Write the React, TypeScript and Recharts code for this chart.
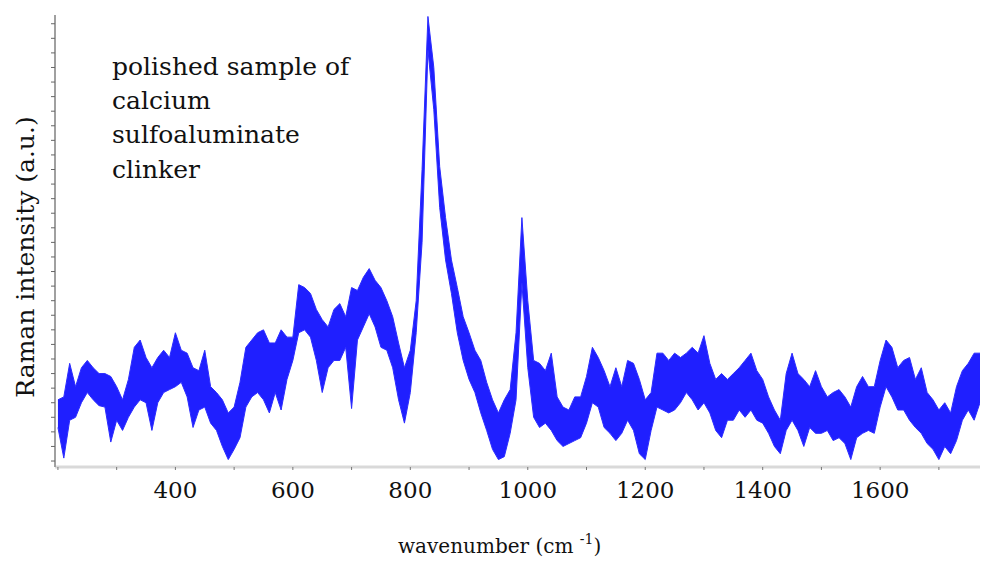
import { AreaChart, Area, XAxis, YAxis } from "recharts";

const wavenumber = [
  200, 210, 220, 230, 240, 250, 260, 270, 280, 290,
  300, 310, 320, 330, 340, 350, 360, 370, 380, 390,
  400, 410, 420, 430, 440, 450, 460, 470, 480, 490,
  500, 510, 520, 530, 540, 550, 560, 570, 580, 590,
  600, 610, 620, 630, 640, 650, 660, 670, 680, 690,
  700, 710, 720, 730, 740, 750, 760, 770, 780, 790,
  800, 810, 820, 830, 840, 850, 860, 870, 880, 890,
  900, 910, 920, 930, 940, 950, 960, 970, 980, 990,
  1000, 1010, 1020, 1030, 1040, 1050, 1060, 1070, 1080, 1090,
  1100, 1110, 1120, 1130, 1140, 1150, 1160, 1170, 1180, 1190,
  1200, 1210, 1220, 1230, 1240, 1250, 1260, 1270, 1280, 1290,
  1300, 1310, 1320, 1330, 1340, 1350, 1360, 1370, 1380, 1390,
  1400, 1410, 1420, 1430, 1440, 1450, 1460, 1470, 1480, 1490,
  1500, 1510, 1520, 1530, 1540, 1550, 1560, 1570, 1580, 1590,
  1600, 1610, 1620, 1630, 1640, 1650, 1660, 1670, 1680, 1690,
  1700, 1710, 1720, 1730, 1740, 1750, 1760, 1770,
];

// top of the noisy trace (a.u.)
const upper = [
  42, 44, 67, 51, 64, 69, 64, 60, 60, 58,
  51, 42, 56, 78, 83, 71, 64, 71, 76, 71,
  88, 76, 74, 64, 62, 76, 51, 47, 42, 33,
  37, 54, 78, 83, 88, 90, 81, 81, 90, 85,
  85, 121, 119, 115, 104, 97, 92, 104, 108, 99,
  119, 117, 126, 132, 124, 119, 110, 99, 81, 64,
  76, 110, 200, 305, 270, 202, 167, 138, 119, 99,
  88, 76, 69, 54, 42, 33, 42, 49, 88, 167,
  110, 69, 67, 62, 74, 44, 37, 35, 44, 44,
  58, 78, 71, 62, 51, 64, 51, 69, 67, 56,
  42, 47, 74, 74, 69, 74, 71, 74, 78, 74,
  86, 67, 56, 60, 56, 60, 64, 69, 74, 62,
  56, 44, 35, 28, 60, 74, 60, 56, 51, 62,
  51, 44, 47, 49, 44, 37, 51, 58, 51, 51,
  69, 83, 78, 64, 69, 71, 56, 64, 47, 42,
  35, 40, 33, 51, 62, 67, 74, 74,
];

// bottom of the noisy trace (a.u.)
const lower = [
  23, 2, 28, 30, 40, 47, 42, 38, 37, 13,
  28, 21, 30, 37, 42, 40, 21, 40, 47, 49,
  51, 54, 44, 23, 35, 37, 26, 21, 10, 1,
  8, 16, 37, 44, 47, 42, 33, 47, 35, 56,
  69, 88, 90, 85, 69, 47, 64, 69, 69, 78,
  36, 83, 92, 101, 92, 78, 76, 64, 42, 26,
  47, 88, 150, 282, 241, 174, 138, 115, 88, 69,
  56, 47, 33, 21, 8, 1, 3, 19, 42, 122,
  64, 30, 23, 26, 21, 14, 10, 12, 14, 16,
  26, 40, 37, 23, 19, 14, 19, 28, 21, 5,
  1, 21, 37, 35, 33, 35, 40, 47, 42, 35,
  40, 33, 21, 16, 28, 28, 35, 30, 35, 28,
  26, 19, 10, 5, 21, 28, 21, 10, 23, 19,
  19, 21, 14, 16, 12, 1, 16, 19, 21, 19,
  37, 51, 44, 35, 35, 28, 23, 19, 12, 8,
  1, 10, 5, 14, 28, 35, 28, 40,
];

const xTicks = [200, 300, 400, 500, 600, 700, 800, 900, 1000, 1100, 1200, 1300, 1400, 1500, 1600, 1700];
const xTickLabels = [400, 600, 800, 1000, 1200, 1400, 1600];
const yTicks = [
  0, 10, 20, 30, 40, 50, 60, 70, 80, 90, 100, 110, 120, 130, 140, 150,
  160, 170, 180, 190, 200, 210, 220, 230, 240, 250, 260, 270, 280, 290, 300,
];
const noteLines = ["polished sample of", "calcium", "sulfoaluminate", "clinker"];

const data = wavenumber.map((wn, i) => ({ wn, band: [lower[i], upper[i]] }));

const FONT = "'DejaVu Serif', serif";

function XTick(props: any) {
  const { x, y, payload } = props;
  if (!xTickLabels.includes(payload.value)) return <g />;
  return (
    <text x={x} y={y} dy={28} textAnchor="middle" fontFamily={FONT} fontSize={23} fill="#111">
      {payload.value}
    </text>
  );
}

export default function App() {
  return (
    <div style={{ position: "absolute", left: 0, top: 0, width: 982, height: 561, background: "#fff" }}>
      <AreaChart width={982} height={561} data={data} margin={{ top: 15, right: 2, bottom: 0, left: 0 }}>
        <XAxis
          dataKey="wn"
          type="number"
          domain={[195, 1770]}
          ticks={xTicks}
          interval={0}
          height={94}
          tickSize={3}
          tickMargin={0}
          tick={XTick}
          axisLine={{ stroke: "#d9d9d9", strokeWidth: 3 }}
          tickLine={{ stroke: "#777" }}
          allowDataOverflow
        />
        <YAxis
          type="number"
          domain={[-4.1, 306]}
          ticks={yTicks}
          interval={0}
          width={55}
          tickSize={4}
          tick={() => <g />}
          axisLine={{ stroke: "#a0a0a0", strokeWidth: 2 }}
          tickLine={{ stroke: "#666" }}
          allowDataOverflow
        />
        <Area
          dataKey="band"
          type="linear"
          stroke="#2b2bff"
          strokeWidth={1}
          fill="#0000ff"
          fillOpacity={0.88}
          isAnimationActive={false}
          dot={false}
          activeDot={false}
        />
        <text transform="rotate(-90)" x={-257} y={34} textAnchor="middle" fontFamily={FONT} fontSize={25} fill="#111">
          Raman intensity (a.u.)
        </text>
        <text x={398} y={553} fontFamily={FONT} fontSize={20} fill="#111">
          wavenumber (cm <tspan fontSize={14} dy={-9}>-1</tspan>
          <tspan dy={9}>)</tspan>
        </text>
        {noteLines.map((line, i) => (
          <text key={line} x={112} y={75 + i * 34.2} fontFamily={FONT} fontSize={25} fill="#111">
            {line}
          </text>
        ))}
      </AreaChart>
    </div>
  );
}
